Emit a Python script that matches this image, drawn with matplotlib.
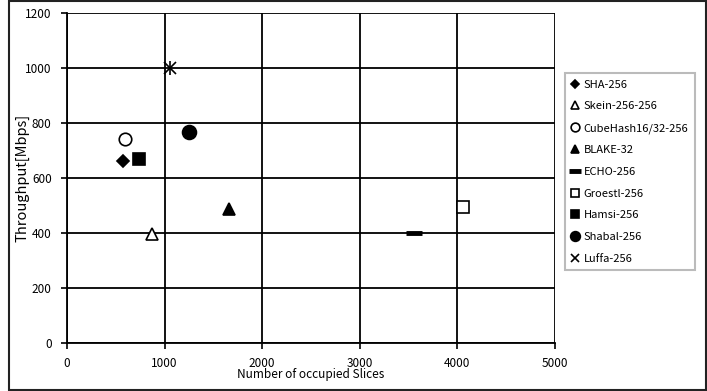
import matplotlib
matplotlib.use('Agg')
import matplotlib.pyplot as plt
from matplotlib.patches import Rectangle

plt.rcParams['font.family'] = ['Noto Sans CJK JP', 'DejaVu Sans']

# 各ハッシュ関数の実装結果 (スライス数, スループット)
names  = ['SHA-256', 'Skein-256-256', 'CubeHash16/32-256', 'BLAKE-32',
          'ECHO-256', 'Groestl-256', 'Hamsi-256', 'Shabal-256', 'Luffa-256']
slices = [575, 870, 595, 1660, 3555, 4060, 740, 1250, 1055]
tput   = [660, 398, 742, 487, 400, 494, 668, 766, 1000]

markers = ['D', '^', 'o', '^', '_', 's', 's', 'o', 'x']
faces   = ['black', 'white', 'white', 'black', 'black', 'white', 'black', 'black', 'black']
sizes   = [6, 8, 9, 8, 12, 9, 9, 10, 9]

fig = plt.figure(figsize=(7.07, 3.91), dpi=100)
ax = fig.add_axes([0.0948, 0.1228, 0.690, 0.844])

for n, x, y, m, fc, s in zip(names, slices, tput, markers, faces, sizes):
    ew = 3.5 if m == '_' else 1.2
    ax.plot(x, y, linestyle='none', marker=m, markersize=s,
            markerfacecolor=fc, markeredgecolor='black',
            markeredgewidth=ew, label=n)
# Luffa はアスタリスク風に縦線を重ねる
ax.plot(slices[8], tput[8], linestyle='none', marker='|', markersize=10,
        color='black', markeredgewidth=1.2)

ax.set_xlim(0, 5000)
ax.set_ylim(0, 1200)
ax.set_xticks(range(0, 5001, 1000))
ax.set_yticks(range(0, 1201, 200))
ax.grid(True, color='black', linewidth=1.3)
ax.tick_params(direction='out', length=4, width=1.2, labelsize=8.5)
ax.tick_params(axis='x', pad=6)
ax.tick_params(axis='y', pad=7)
for side in ['top', 'right']:
    ax.spines[side].set_visible(False)
for side in ['left', 'bottom']:
    ax.spines[side].set_linewidth(1.3)

ax.set_ylabel('Throughput[Mbps]', fontsize=10.5, labelpad=-3)
ax.set_xlabel('Number of occupied Slices', fontsize=8.5, labelpad=-1)

leg = ax.legend(loc='upper left', bbox_to_anchor=(1.02, 0.818), fontsize=8,
                frameon=True, fancybox=False, handlelength=0.6,
                handletextpad=0.5, labelspacing=1.05, borderpad=0.6,
                markerscale=0.7, borderaxespad=0)
leg.get_frame().set_edgecolor('#aaaaaa')
leg.get_frame().set_linewidth(1.5)

# 外枠
fig.patches.append(Rectangle((0.013, 0.003), 0.985, 0.994, transform=fig.transFigure,
                             fill=False, edgecolor='#222222', linewidth=1.5))

fig.savefig('out.png', dpi=100)
